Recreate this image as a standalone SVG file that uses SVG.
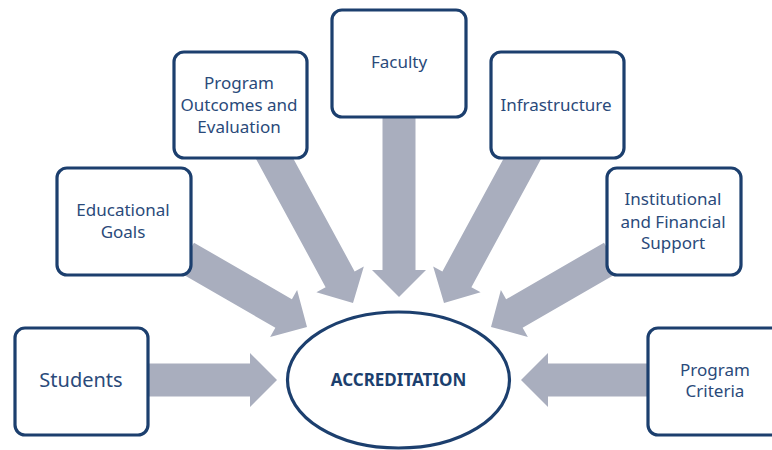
<svg xmlns="http://www.w3.org/2000/svg" width="772" height="450" viewBox="0 0 772 450">
<style>
.box{fill:#ffffff;stroke:#1c3f6e;stroke-width:3.2}
.arr{fill:#a9aebe}
.t{font-family:"Noto Sans","Liberation Sans",Arial,sans-serif;font-size:17px;fill:#2a4a7a;text-anchor:middle}
.big{font-size:20px}
.b{font-weight:bold;font-size:17px;fill:#1c3f6e}
</style>
<defs>
<path id="a130" d="M0,0 L-27,-27 L-27,-16.5 L-140,-16.5 L-140,16.5 L-27,16.5 L-27,27 Z"/>
<path id="a180" d="M0,0 L-27,-27 L-27,-16.5 L-190,-16.5 L-190,16.5 L-27,16.5 L-27,27 Z"/>
</defs>
<rect width="772" height="450" fill="#ffffff"/>
<g id="connectors">
<use href="#a130" class="arr" transform="translate(277,380)"/>
<use href="#a130" class="arr" transform="translate(521,380) rotate(180)"/>
<use href="#a180" class="arr" transform="translate(399,297) rotate(90)"/>
<use href="#a130" class="arr" transform="translate(307,327) rotate(30)"/>
<use href="#a130" class="arr" transform="translate(491,327) rotate(150)"/>
<use href="#a180" class="arr" transform="translate(353,303) rotate(61.5)"/>
<use href="#a180" class="arr" transform="translate(444,303) rotate(118.5)"/>
</g>
<g id="students">
<rect class="box" x="15" y="328" width="133" height="107" rx="10"/>
<text class="t big" x="81" y="387">Students</text>
</g>
<g id="educational-goals">
<rect class="box" x="57" y="168" width="134" height="107" rx="10"/>
<text class="t" x="123" y="216">Educational</text>
<text class="t" x="123" y="238">Goals</text>
</g>
<g id="program-outcomes">
<rect class="box" x="174" y="52" width="133" height="106" rx="10"/>
<text class="t" x="239" y="89">Program</text>
<text class="t" x="239" y="111">Outcomes and</text>
<text class="t" x="239" y="133">Evaluation</text>
</g>
<g id="faculty">
<rect class="box" x="332" y="10" width="134" height="107" rx="10"/>
<text class="t" x="399" y="68">Faculty</text>
</g>
<g id="infrastructure">
<rect class="box" x="491" y="52" width="133" height="106" rx="10"/>
<text class="t" x="556" y="111">Infrastructure</text>
</g>
<g id="institutional">
<rect class="box" x="607" y="168" width="134" height="107" rx="10"/>
<text class="t" x="673" y="205">Institutional</text>
<text class="t" x="673" y="228">and Financial</text>
<text class="t" x="673" y="249">Support</text>
</g>
<g id="program-criteria">
<rect class="box" x="648" y="328" width="134" height="107" rx="10"/>
<text class="t" x="715" y="376">Program</text>
<text class="t" x="715" y="397">Criteria</text>
</g>
<g id="accreditation">
<ellipse class="box" cx="398.5" cy="380" rx="111" ry="68"/>
<text class="t b" x="398.5" y="386">ACCREDITATION</text>
</g>
</svg>
